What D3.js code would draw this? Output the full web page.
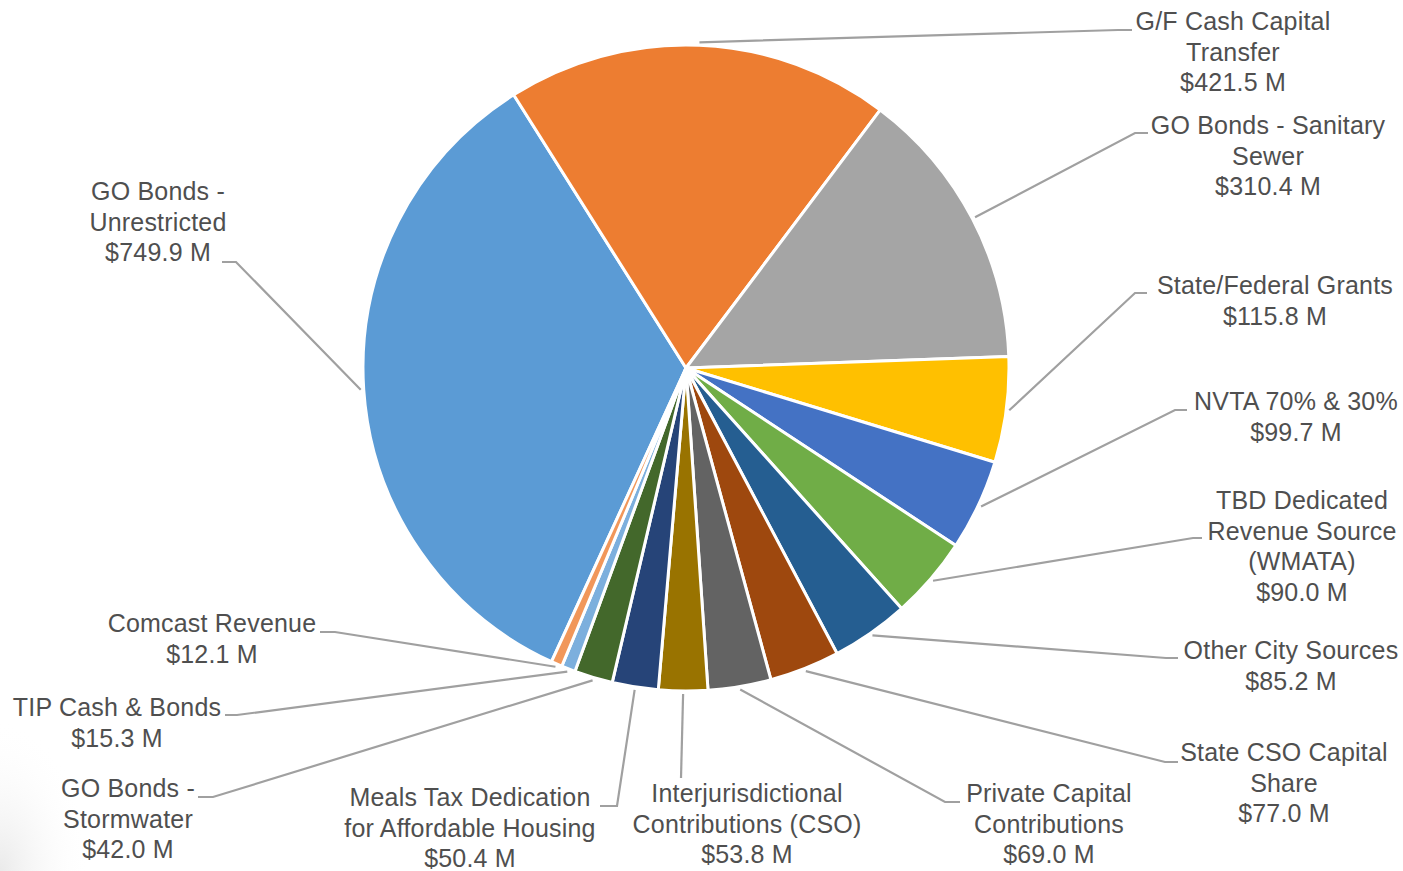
<!DOCTYPE html>
<html>
<head>
<meta charset="utf-8">
<script src="https://cdn.jsdelivr.net/npm/d3@7"></script>
<style>
  html, body { margin: 0; padding: 0; background: #ffffff; }
  svg { display: block; }
  .lbl { font-family: "Liberation Sans", Arial, sans-serif; font-size: 25px; letter-spacing: 0.2px; fill: #4f4f4f; }
</style>
</head>
<body>
<svg id="chart" width="1403" height="871"></svg>
<script>
// Capital funding sources ($ millions)
const categories = [
  "GO Bonds - Unrestricted",
  "G/F Cash Capital Transfer",
  "GO Bonds - Sanitary Sewer",
  "State/Federal Grants",
  "NVTA 70% & 30%",
  "TBD Dedicated Revenue Source (WMATA)",
  "Other City Sources",
  "State CSO Capital Share",
  "Private Capital Contributions",
  "Interjurisdictional Contributions (CSO)",
  "Meals Tax Dedication for Affordable Housing",
  "GO Bonds - Stormwater",
  "TIP Cash & Bonds",
  "Comcast Revenue"
];
const values = [749.9, 421.5, 310.4, 115.8, 99.7, 90.0, 85.2, 77.0, 69.0, 53.8, 50.4, 42.0, 15.3, 12.1];
const colors = ["#5b9bd5", "#ed7d31", "#a5a5a5", "#ffc000", "#4472c4", "#70ad47",
                "#255e91", "#9e480e", "#636363", "#997300", "#264478", "#43682b",
                "#7cafdd", "#f1975a"];

// Label placement: wrapped lines, block centre x, first line y, leader elbow and end
const labelLayout = [
  { lines: ["GO Bonds -", "Unrestricted"], cx: 158, y: 191, elbow: [236, 262], end: [222, 262] },
  { lines: ["G/F Cash Capital", "Transfer"], cx: 1233, y: 21, elbow: [1118, 30], end: [1132, 30] },
  { lines: ["GO Bonds - Sanitary", "Sewer"], cx: 1268, y: 125, elbow: [1135, 133], end: [1148, 133] },
  { lines: ["State/Federal Grants"], cx: 1275, y: 285, elbow: [1135, 293], end: [1147, 293] },
  { lines: ["NVTA 70% & 30%"], cx: 1296, y: 401, elbow: [1175, 410], end: [1187, 410] },
  { lines: ["TBD Dedicated", "Revenue Source", "(WMATA)"], cx: 1302, y: 500, elbow: [1193, 538], end: [1202, 538] },
  { lines: ["Other City Sources"], cx: 1291, y: 650, elbow: [1166, 658], end: [1178, 658] },
  { lines: ["State CSO Capital", "Share"], cx: 1284, y: 752, elbow: [1165, 762], end: [1178, 762] },
  { lines: ["Private Capital", "Contributions"], cx: 1049, y: 793, elbow: [945, 802], end: [960, 802] },
  { lines: ["Interjurisdictional", "Contributions (CSO)"], cx: 747, y: 793, elbow: null, end: [681, 778] },
  { lines: ["Meals Tax Dedication", "for Affordable Housing"], cx: 470, y: 797, elbow: [617, 806], end: [600, 806] },
  { lines: ["GO Bonds -", "Stormwater"], cx: 128, y: 788, elbow: [213, 797], end: [198, 797] },
  { lines: ["TIP Cash & Bonds"], cx: 117, y: 707, elbow: [237, 715], end: [225, 715] },
  { lines: ["Comcast Revenue"], cx: 212, y: 623, elbow: [335, 632], end: [320, 632] }
];

const cx = 686, cy = 368, radius = 323;
const lineH = 30.8;
const fmt = v => "$" + v.toFixed(1) + " M";

const svg = d3.select("#chart");

// faint corner shading
const defs = svg.append("defs");
const rg = defs.append("radialGradient").attr("id", "corner")
  .attr("cx", 0).attr("cy", 1).attr("r", 1);
rg.append("stop").attr("offset", "0").attr("stop-color", "#dcdcdc").attr("stop-opacity", 0.6);
rg.append("stop").attr("offset", "1").attr("stop-color", "#ffffff").attr("stop-opacity", 0);
svg.append("rect").attr("x", 0).attr("y", 720).attr("width", 90).attr("height", 151)
  .attr("fill", "url(#corner)");

const data = values.map((v, i) => ({ name: categories[i], value: v, color: colors[i], layout: labelLayout[i] }));

const start = 204.6 * Math.PI / 180;
const pie = d3.pie().sort(null).value(d => d.value)
  .startAngle(start).endAngle(start + 2 * Math.PI);
const arcs = pie(data);

const arc = d3.arc().innerRadius(0).outerRadius(radius);
const g = svg.append("g").attr("transform", `translate(${cx},${cy})`);

g.selectAll("path.slice").data(arcs).join("path")
  .attr("class", "slice")
  .attr("d", arc)
  .attr("fill", d => d.data.color)
  .attr("stroke", "#ffffff")
  .attr("stroke-width", 3)
  .attr("stroke-linejoin", "round");

// leader lines
const edge = d3.arc().innerRadius(radius + 3).outerRadius(radius + 3);
const leaders = svg.append("g");
arcs.forEach(d => {
  const [px, py] = edge.centroid(d);
  const L = d.data.layout;
  const pts = [[cx + px, cy + py]];
  if (L.elbow) pts.push(L.elbow);
  pts.push(L.end);
  leaders.append("path")
    .attr("d", d3.line()(pts))
    .attr("fill", "none")
    .attr("stroke", "#a0a0a0")
    .attr("stroke-width", 2.2);
});

// labels
const labels = svg.append("g");
arcs.forEach(d => {
  const L = d.data.layout;
  const lines = L.lines.concat([fmt(d.data.value)]);
  const t = labels.append("text").attr("class", "lbl").attr("text-anchor", "middle");
  lines.forEach((s, i) => {
    t.append("tspan").attr("x", L.cx).attr("y", L.y + i * lineH).attr("dy", "0.35em").text(s);
  });
});
</script>
</body>
</html>
